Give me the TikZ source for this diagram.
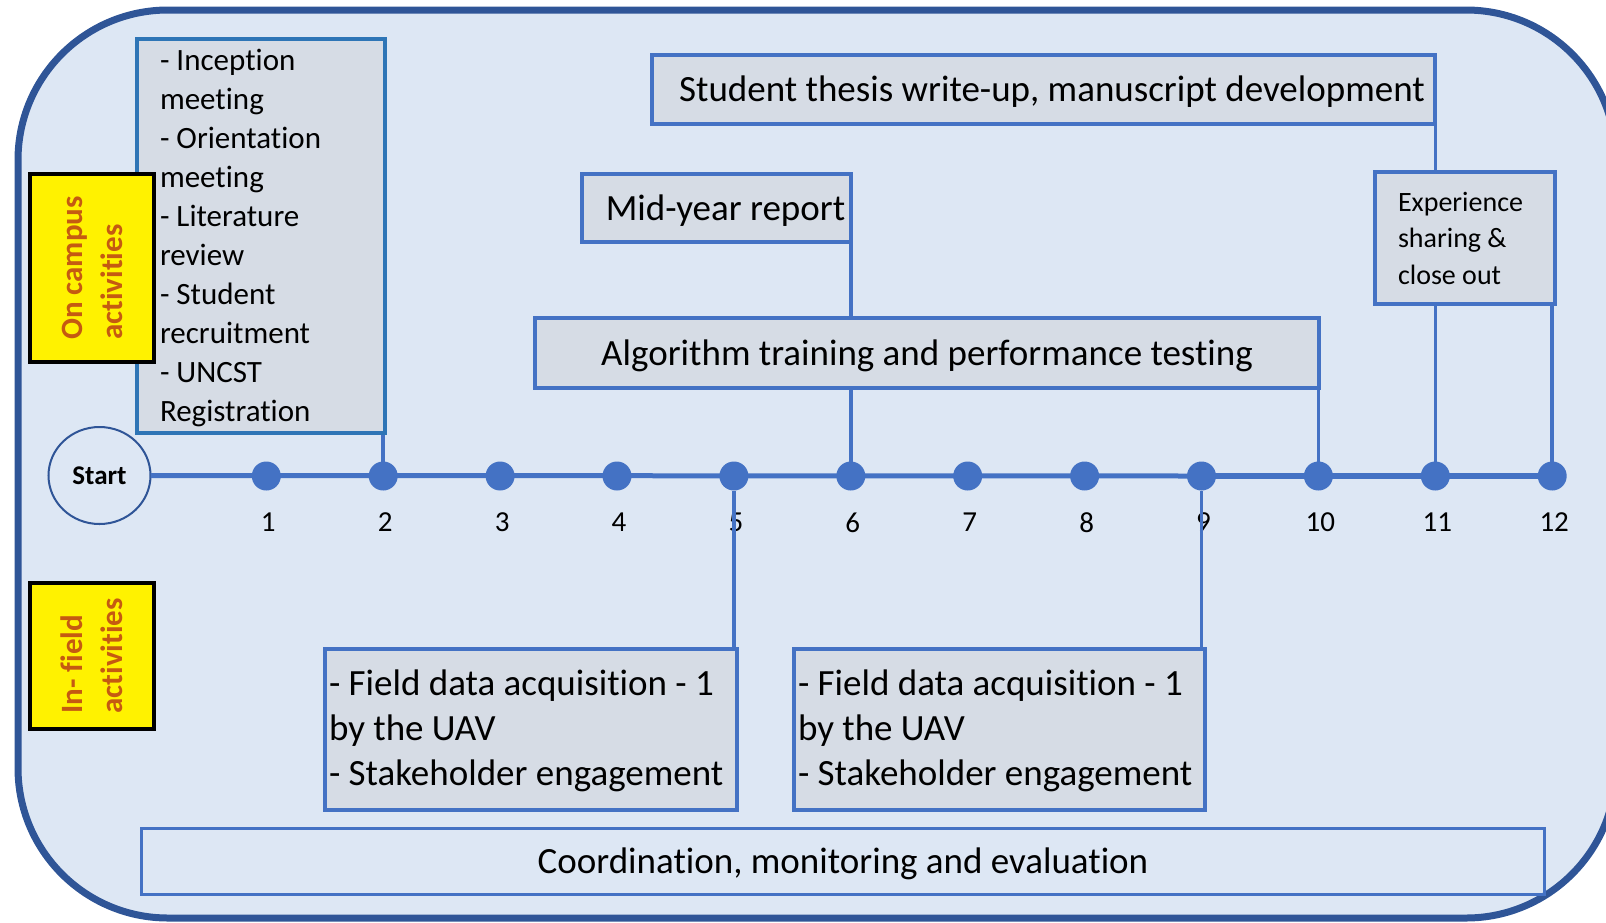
\documentclass[tikz,border=0pt]{standalone}
\usepackage{fontspec}
\setmainfont{Carlito}[Ligatures={NoCommon}]
\usetikzlibrary{shapes.geometric,calc}
\definecolor{bgblue}{HTML}{DDE7F4}
\definecolor{outerblue}{HTML}{2F5597}
\definecolor{accent}{HTML}{4472C4}
\definecolor{boxgray}{HTML}{D6DCE5}
\definecolor{lblorange}{HTML}{C55A11}
\definecolor{campusblue}{HTML}{2E75B6}
\newcommand\FontBig{\fontsize{37}{45}\selectfont}
\newcommand\FontList{\fontsize{31}{39}\selectfont}
\newcommand\FontExp{\fontsize{28}{36.5}\selectfont}
\newcommand\FontNum{\fontsize{29}{35}\selectfont}
\newcommand\FontLbl{\fontsize{31}{40}\selectfont\bfseries}
\newcommand\FontStart{\fontsize{27}{32}\selectfont\bfseries}
\pgfdeclarelayer{bg}
\pgfdeclarelayer{back}
\pgfsetlayers{bg,back,main}
\begin{document}
\begin{tikzpicture}[x=1pt,y=-1pt,
  box/.style={draw=accent, line width=4.5pt, fill=boxgray, inner ysep=0pt,
    outer sep=0pt, anchor=north west, text=black},
  onerow/.style={text height=32pt, text depth=8pt},
  ylw/.style={draw=black, line width=3.5pt, fill=yellow, text=lblorange,
    font=\FontLbl, align=left, inner sep=0pt, outer sep=0pt},
  dotnode/.style={circle, fill=accent, minimum size=29pt, inner sep=0pt, outer sep=0pt},
  numlbl/.style={font=\FontNum, inner sep=0pt, text=black},
  conn/.style={draw=accent, line width=3.5pt}
]
\useasboundingbox (0,0) rectangle (1606,922);

% background
\begin{pgfonlayer}{bg}
\begin{scope}
\clip (0,0) rectangle (1606,922);
\draw[draw=outerblue, fill=bgblue, line width=7pt, rounded corners=150pt]
  (18,10) rectangle (1616,918);
\end{scope}
\end{pgfonlayer}

% boxes
\node[box, draw=campusblue, minimum width=248pt, minimum height=394pt,
  inner xsep=23pt, text width=202pt, align=flush left, font=\FontList] (campus) at (137,39)
  {\rule{0pt}{26pt}- Inception\\meeting\\- Orientation\\meeting\\- Literature\\review\\- Student\\recruitment\\- UNCST\\Registration};

\node[ylw, rotate=90, minimum width=188pt, minimum height=124pt] (oncampus) at (92,268)
  {On campus\\activities};
\node[ylw, rotate=90, minimum width=146pt, minimum height=124pt] (infield) at (92,656)
  {In- field\\activities};

\node[box, onerow, minimum width=783pt, minimum height=69pt, inner xsep=0pt, font=\FontBig] (thesis) at (652,55)
  {\hspace*{17pt}Student thesis write-up, manuscript development};
\node[box, onerow, minimum width=269pt, minimum height=68pt, inner xsep=0pt, font=\FontBig] (midyear) at (582,174)
  {\hspace*{18pt}Mid-year report};
\node[box, onerow, minimum width=784pt, minimum height=70pt, inner xsep=0pt, font=\FontBig] (algo) at (535,318)
  {Algorithm training and performance testing};
\node[box, minimum width=180pt, minimum height=132pt, inner xsep=23pt, text width=134pt,
  align=flush left, font=\FontExp] (exp) at (1375,172)
  {Experience\\sharing \&\\close out};

\node[box, minimum width=412pt, minimum height=161pt, inner xsep=4pt, text width=404pt,
  align=flush left, font=\FontBig] (fieldA) at (325,649)
  {\rule{0pt}{29pt}\mbox{- Field data acquisition - 1}\\\mbox{by the UAV}\\\mbox{- Stakeholder engagement}};
\node[box, minimum width=411pt, minimum height=161pt, inner xsep=4pt, text width=403pt,
  align=flush left, font=\FontBig] (fieldB) at (794,649)
  {\rule{0pt}{29pt}\mbox{- Field data acquisition - 1}\\\mbox{by the UAV}\\\mbox{- Stakeholder engagement}};

\node[draw=accent, line width=3pt, inner sep=0pt, outer sep=0pt, anchor=north west, onerow,
  minimum width=1403pt, minimum height=66pt, font=\FontBig] (coord) at (141.5,828.5)
  {Coordination, monitoring and evaluation};

% timeline
\node[draw=outerblue, line width=2pt, ellipse, fill=bgblue, minimum width=102pt,
  minimum height=97pt, inner sep=0pt, outer sep=0pt, font=\FontStart] (start) at (99.5,475.5) {Start};
\foreach \i in {1,...,12} {
  \coordinate (d\i) at ({266.3+(\i-1)*116.9},476);
}
\draw[accent, line width=5pt] (start.east) -- (d9);
\draw[accent, line width=6.5pt] (d9) -- (d12);
\foreach \i in {1,...,12} {
  \node[dotnode] (n\i) at (d\i) {};
}
\begin{pgfonlayer}{bg}
\foreach \i in {1,...,12} {
  \node[numlbl] (l\i) at ($(d\i)+(2,46.5)$) {\i};
}
\end{pgfonlayer}

% connectors
\begin{pgfonlayer}{back}
\draw[conn] (campus.south -| n2) -- (n2);
\draw[conn] (midyear.south -| n6) -- (n6);
\draw[conn] (algo.south -| n10) -- (n10);
\draw[conn] (thesis.south -| n11) -- (exp.north -| n11);
\draw[conn] (exp.south -| n11) -- (n11);
\draw[conn] (exp.south -| n12) -- (n12);
\draw[conn] (n5) -- (fieldA.north -| n5);
\draw[conn] (n9) -- (fieldB.north -| n9);
\end{pgfonlayer}
\end{tikzpicture}
\end{document}
